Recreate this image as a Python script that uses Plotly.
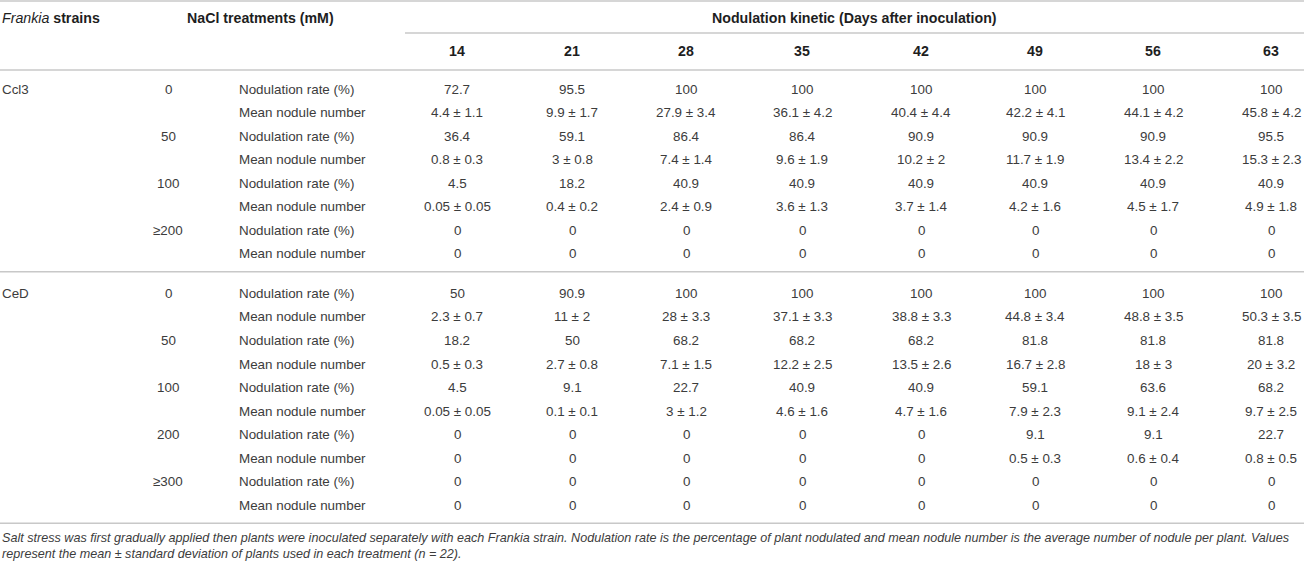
import plotly.graph_objects as go

days = ["14", "21", "28", "35", "42", "49", "56", "63"]
strains = ["Ccl3", "CeD"]
ccl3_nacl = ["0", "50", "100", "≥200"]
ced_nacl = ["0", "50", "100", "200", "≥300"]
measures = ["Nodulation rate (%)", "Mean nodule number"]

ccl3_rate = [
    ["72.7", "95.5", "100", "100", "100", "100", "100", "100"],
    ["36.4", "59.1", "86.4", "86.4", "90.9", "90.9", "90.9", "95.5"],
    ["4.5", "18.2", "40.9", "40.9", "40.9", "40.9", "40.9", "40.9"],
    ["0", "0", "0", "0", "0", "0", "0", "0"],
]
ccl3_mean = [
    ["4.4 ± 1.1", "9.9 ± 1.7", "27.9 ± 3.4", "36.1 ± 4.2", "40.4 ± 4.4", "42.2 ± 4.1", "44.1 ± 4.2", "45.8 ± 4.2"],
    ["0.8 ± 0.3", "3 ± 0.8", "7.4 ± 1.4", "9.6 ± 1.9", "10.2 ± 2", "11.7 ± 1.9", "13.4 ± 2.2", "15.3 ± 2.3"],
    ["0.05 ± 0.05", "0.4 ± 0.2", "2.4 ± 0.9", "3.6 ± 1.3", "3.7 ± 1.4", "4.2 ± 1.6", "4.5 ± 1.7", "4.9 ± 1.8"],
    ["0", "0", "0", "0", "0", "0", "0", "0"],
]
ced_rate = [
    ["50", "90.9", "100", "100", "100", "100", "100", "100"],
    ["18.2", "50", "68.2", "68.2", "68.2", "81.8", "81.8", "81.8"],
    ["4.5", "9.1", "22.7", "40.9", "40.9", "59.1", "63.6", "68.2"],
    ["0", "0", "0", "0", "0", "9.1", "9.1", "22.7"],
    ["0", "0", "0", "0", "0", "0", "0", "0"],
]
ced_mean = [
    ["2.3 ± 0.7", "11 ± 2", "28 ± 3.3", "37.1 ± 3.3", "38.8 ± 3.3", "44.8 ± 3.4", "48.8 ± 3.5", "50.3 ± 3.5"],
    ["0.5 ± 0.3", "2.7 ± 0.8", "7.1 ± 1.5", "12.2 ± 2.5", "13.5 ± 2.6", "16.7 ± 2.8", "18 ± 3", "20 ± 3.2"],
    ["0.05 ± 0.05", "0.1 ± 0.1", "3 ± 1.2", "4.6 ± 1.6", "4.7 ± 1.6", "7.9 ± 2.3", "9.1 ± 2.4", "9.7 ± 2.5"],
    ["0", "0", "0", "0", "0", "0.5 ± 0.3", "0.6 ± 0.4", "0.8 ± 0.5"],
    ["0", "0", "0", "0", "0", "0", "0", "0"],
]
caption = ("<i>Salt stress was first gradually applied then plants were inoculated separately with each Frankia strain. "
           "Nodulation rate is the percentage of plant nodulated and mean nodule number is the average number of nodule per plant. Values<br>"
           "represent the mean ± standard deviation of plants used in each treatment (n = 22).</i>")

# layout constants (pixel coordinates)
W, H = 1304, 564
FONT = "Liberation Sans"
TXT = "#3c3c3c"
HDR = "#1e1e1e"
LINE = "#c8c8c8"
day_x = [457, 572, 686, 802, 921, 1035, 1153, 1271]
strain_x = 0
nacl_x = 168
meas_x = 237
row0_y = 89
row_dy = 23.55
group_gap = 39.5
BODY = 13.4
HEAD = 14.2

fig = go.Figure()
ann = []

def A(x, y, text, xanchor="center", size=BODY, color=TXT):
    ann.append(dict(x=x, y=y, xref="x", yref="y", text=text, showarrow=False,
                    xanchor=xanchor, yanchor="middle",
                    font=dict(family=FONT, size=size, color=color)))

# headers
A(0, 18, "<i>Frankia</i><b> strains</b>", "left", size=HEAD, color=HDR)
A(185, 18, "<b>NaCl treatments (mM)</b>", "left", size=HEAD, color=HDR)
A(854, 18, "<b>Nodulation kinetic (Days after inoculation)</b>", size=HEAD, color=HDR)
for d, x in zip(days, day_x):
    A(x, 51, f"<b>{d}</b>", size=HEAD, color=HDR)

groups = [(strains[0], ccl3_nacl, ccl3_rate, ccl3_mean), (strains[1], ced_nacl, ced_rate, ced_mean)]
y = row0_y
sep_ys = []
for gi, (strain, nacl, rate, mean) in enumerate(groups):
    A(strain_x, y, strain, "left")
    for i, n in enumerate(nacl):
        A(nacl_x, y, n)
        for vals, mname in ((rate[i], measures[0]), (mean[i], measures[1])):
            A(meas_x, y, mname, "left")
            for v, x in zip(vals, day_x):
                A(x, y, v)
            y += row_dy
    sep_ys.append(y - row_dy + 18)
    y = y - row_dy + group_gap

fig.add_trace(go.Scatter(x=[0, W], y=[0, H], mode="markers", marker=dict(opacity=0), hoverinfo="skip", showlegend=False))

shapes = []
def L(x0, x1, yy, w=1.5):
    shapes.append(dict(type="line", xref="x", yref="y", x0=x0, x1=x1, y0=yy, y1=yy,
                       line=dict(color=LINE, width=w)))
L(0, W, 1)
L(405, W, 33)
L(0, W, 70)
for s in sep_ys:
    L(0, W, s)

ann.append(dict(x=0, y=529, xref="x", yref="y", text=caption, showarrow=False, xanchor="left", yanchor="top",
                align="left", font=dict(family=FONT, size=12.6, color=TXT)))

fig.update_layout(width=W, height=H, margin=dict(l=0, r=0, t=0, b=0),
                  paper_bgcolor="white", plot_bgcolor="white",
                  xaxis=dict(range=[0, W], visible=False, fixedrange=True),
                  yaxis=dict(range=[H, 0], visible=False, fixedrange=True),
                  annotations=ann, shapes=shapes)
fig.write_html("out.html", config={"displayModeBar": False},
               post_script="document.body.style.margin='0';document.body.style.overflow='hidden';")
